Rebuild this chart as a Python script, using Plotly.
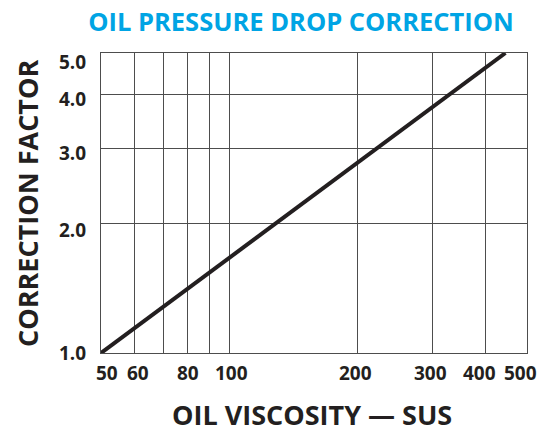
import math
import plotly.graph_objects as go

# data
viscosity_sus = [50, 445]
correction_factor = [1.0, 5.0]

x_tick_vals = [50, 60, 70, 80, 90, 100, 200, 300, 400, 500]
x_label_vals = [50, 60, 80, 100, 200, 300, 400, 500]
x_label_text = ["50", "60", "80", "100", "200", "300", "400", "500"]
y_tick_vals = [1.0, 2.0, 3.0, 4.0, 5.0]
y_tick_text = ["1.0", "2.0", "3.0", "4.0", "5.0"]

title_text = "OIL PRESSURE DROP CORRECTION"
x_title = "OIL VISCOSITY — SUS"
y_title = "CORRECTION FACTOR"

FONT = "Open Sans"
DARK = "#231f20"
GRID = "#4d4d4d"

W, H = 541, 428
left, right, top, bottom = 101, 527, 53, 353  # plot frame in pixels
L, R, T, B = left, W - right, top, H - bottom
pw, ph = W - L - R, H - T - B


def px_x(page_x):
    return (page_x - left) / pw


def px_y(page_y):
    return (bottom - page_y) / ph


fig = go.Figure()
fig.add_trace(go.Scatter(
    x=viscosity_sus, y=correction_factor, mode="lines",
    line=dict(color=DARK, width=4), hoverinfo="skip", showlegend=False,
))

tick_font = dict(family=FONT, size=19, color=DARK, weight=700)
annotations = []
x_shifts = {50: 6, 60: 3, 100: 2, 200: -2, 300: -2, 400: -6, 500: -7}
for v, t in zip(x_label_vals, x_label_text):
    annotations.append(dict(text=t, x=math.log10(v), xref="x", y=px_y(373), yref="paper",
                            xanchor="center", yanchor="middle", showarrow=False,
                            xshift=x_shifts.get(v, 0), font=tick_font))
y_shifts = {1.0: 0, 2.0: -6, 3.0: -5, 4.0: -4, 5.0: -9}
for v, t in zip(y_tick_vals, y_tick_text):
    annotations.append(dict(text=t, x=px_x(88), xref="paper", y=math.log10(v), yref="y",
                            xanchor="right", yanchor="middle", showarrow=False,
                            yshift=y_shifts[v], font=tick_font))
annotations.append(dict(text=x_title, x=px_x(312), y=px_y(414), height=26, valign="middle",
                        xref="paper", yref="paper", xanchor="center", yanchor="middle",
                        showarrow=False, font=dict(family=FONT, size=27, color=DARK, weight=700)))
annotations.append(dict(text=y_title, x=px_x(27), y=px_y(204),
                        xref="paper", yref="paper", xanchor="center", yanchor="middle",
                        showarrow=False, textangle=-90,
                        font=dict(family=FONT, size=27, color=DARK, weight=700)))

fig.update_layout(
    width=W, height=H,
    margin=dict(l=L, r=R, t=T, b=B, autoexpand=False),
    paper_bgcolor="white", plot_bgcolor="white",
    font=dict(family=FONT, color=DARK),
    title=dict(text=title_text, font=dict(family=FONT, size=25.5, color="#00a4e4", weight=700),
               x=301 / W, xanchor="center", xref="container",
               y=1 - 22 / H, yanchor="middle", yref="container"),
    xaxis=dict(type="log", range=[math.log10(50), math.log10(500)], tickvals=x_tick_vals,
               showticklabels=False,
               showgrid=True, gridcolor=GRID, gridwidth=1, showline=True, linecolor=GRID,
               linewidth=1, mirror=True, ticks="", zeroline=False, automargin=False),
    yaxis=dict(type="log", range=[0, math.log10(5)], tickvals=y_tick_vals, showticklabels=False,
               showgrid=True, gridcolor=GRID, gridwidth=1, showline=True, linecolor=GRID,
               linewidth=1, mirror=True, ticks="", zeroline=False, automargin=False),
    annotations=annotations,
)

fig.write_html("out.html", config={"displayModeBar": False},
               post_script="document.body.style.margin='0';document.body.style.overflow='hidden';")
